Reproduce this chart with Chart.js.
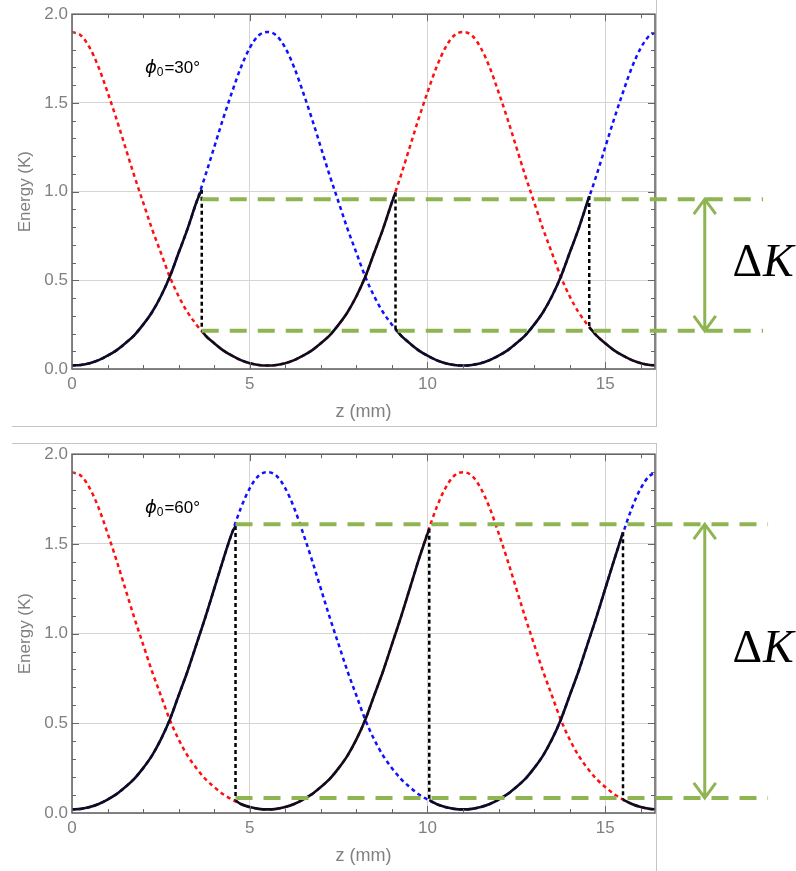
<!DOCTYPE html>
<html>
<head>
<meta charset="utf-8">
<script src="https://cdn.jsdelivr.net/npm/chart.js@4.4.0/dist/chart.umd.min.js"></script>
<style>
  html, body { margin: 0; padding: 0; background: #fff; }
  body { width: 796px; height: 871px; position: relative; overflow: hidden; }
  canvas { position: absolute; left: 0; }
  #c30 { top: 0; }
  #c60 { top: 440px; }
  .cell { position: absolute; border-color: #c4c4c4; border-style: solid; }
</style>
</head>
<body>
<div class="cell" style="left:12px; top:-1px; width:644px; height:427px; border-width:0 1px 1px 0;"></div>
<div class="cell" style="left:12px; top:443px; width:644px; height:440px; border-width:1px 1px 0 0;"></div>
<canvas id="c30" width="796" height="430"></canvas>
<canvas id="c60" width="796" height="431"></canvas>
<script>
// z positions (mm) where the two potential curves were read
const zGrid = [0, 0.25, 0.5, 0.75, 1, 1.25, 1.5, 1.75, 2, 2.25, 2.5, 2.75, 3, 3.25, 3.5, 3.75,
    4, 4.25, 4.5, 4.75, 5, 5.25, 5.5, 5.75, 6, 6.25, 6.5, 6.75, 7, 7.25, 7.5, 7.75,
    8, 8.25, 8.5, 8.75, 9, 9.25, 9.5, 9.75, 10, 10.25, 10.5, 10.75, 11, 11.25, 11.5, 11.75,
    12, 12.25, 12.5, 12.75, 13, 13.25, 13.5, 13.75, 14, 14.25, 14.5, 14.75, 15, 15.25, 15.5, 15.75,
    16, 16.25, 16.5];

// red dotted curve, energy (K)
const redDotted = [1.90, 1.88, 1.81, 1.70, 1.56, 1.41, 1.25, 1.09, 0.94, 0.79, 0.655, 0.52, 0.41, 0.32, 0.25, 0.19,
    0.145, 0.105, 0.075, 0.05, 0.033, 0.023, 0.02,
    0.023, 0.033, 0.05, 0.075, 0.105, 0.145, 0.19, 0.25, 0.32, 0.41, 0.52, 0.655, 0.79, 0.94, 1.09,
    1.25, 1.41, 1.56, 1.70, 1.81, 1.88, 1.90,
    1.88, 1.81, 1.70, 1.56, 1.41, 1.25, 1.09, 0.94, 0.79, 0.655, 0.52, 0.41, 0.32, 0.25, 0.19,
    0.145, 0.105, 0.075, 0.05, 0.033, 0.023, 0.02];

// blue dotted curve, energy (K)
const blueDotted = [0.02, 0.023, 0.033, 0.05, 0.075, 0.105, 0.145, 0.19, 0.25, 0.32, 0.41, 0.52, 0.655, 0.79, 0.94, 1.09,
    1.25, 1.41, 1.56, 1.70, 1.81, 1.88, 1.90,
    1.88, 1.81, 1.70, 1.56, 1.41, 1.25, 1.09, 0.94, 0.79, 0.655, 0.52, 0.41, 0.32, 0.25, 0.19,
    0.145, 0.105, 0.075, 0.05, 0.033, 0.023, 0.02,
    0.023, 0.033, 0.05, 0.075, 0.105, 0.145, 0.19, 0.25, 0.32, 0.41, 0.52, 0.655, 0.79, 0.94, 1.09,
    1.25, 1.41, 1.56, 1.70, 1.81, 1.88, 1.90];

// switching points of the black curve
const switchZ30 = [3.65, 9.1, 14.55];
const switchHigh30 = [1.01, 0.995, 0.975];
const switchLow30 = [0.22, 0.226, 0.236];
const greenLevels30 = [0.957, 0.215];

const switchZ60 = [4.6, 10.05, 15.5];
const switchHigh60 = [1.60, 1.585, 1.565];
const switchLow60 = [0.07, 0.072, 0.075];
const greenLevels60 = [1.61, 0.084];

// axis ticks
const xTickValues = [0, 5, 10, 15];
const xMajorTicks = [5, 10, 15];
const xMinorTicks = [1, 2, 3, 4, 6, 7, 8, 9, 11, 12, 13, 14, 16];
const yMajorTicks = [0.5, 1.0, 1.5];
const yMinorTicks = [0.1, 0.2, 0.3, 0.4, 0.6, 0.7, 0.8, 0.9, 1.1, 1.2, 1.3, 1.4, 1.6, 1.7, 1.8, 1.9];

const GREEN = '#8fb553';
const TICK_GRAY = '#808080';

Chart.defaults.font.family = '"Liberation Sans", Arial, sans-serif';

// frame with inward ticks, green guides, arrow and labels
const annotate = {
    id: 'annotate',
    afterDatasetsDraw(chart, args, opts) {
        const ctx = chart.ctx;
        const xs = chart.scales.x, ys = chart.scales.y;
        const a = chart.chartArea;
        ctx.save();

        ctx.strokeStyle = '#666';
        ctx.lineWidth = 1;
        ctx.beginPath();
        const xTick = (v, len) => {
            const px = Math.round(xs.getPixelForValue(v)) + 0.5;
            ctx.moveTo(px, a.bottom); ctx.lineTo(px, a.bottom - len);
            ctx.moveTo(px, a.top); ctx.lineTo(px, a.top + len);
        };
        const yTick = (v, len) => {
            const py = Math.round(ys.getPixelForValue(v)) + 0.5;
            ctx.moveTo(a.left, py); ctx.lineTo(a.left + len, py);
            ctx.moveTo(a.right, py); ctx.lineTo(a.right - len, py);
        };
        xMinorTicks.forEach(v => xTick(v, 4));
        xMajorTicks.forEach(v => xTick(v, 7));
        yMinorTicks.forEach(v => yTick(v, 4));
        yMajorTicks.forEach(v => yTick(v, 7));
        ctx.stroke();
        ctx.lineWidth = 1.6;
        ctx.strokeRect(a.left, a.top, a.right - a.left, a.bottom - a.top);

        // green dashed levels
        ctx.strokeStyle = GREEN;
        ctx.lineWidth = 4;
        ctx.setLineDash([17, 11]);
        const gx0 = xs.getPixelForValue(opts.greenFrom);
        const gx1 = xs.getPixelForValue(opts.greenTo);
        opts.levels.forEach(lv => {
            const py = ys.getPixelForValue(lv);
            ctx.beginPath();
            ctx.moveTo(gx0, py);
            ctx.lineTo(gx1, py);
            ctx.stroke();
        });

        // double arrow
        ctx.setLineDash([]);
        ctx.lineWidth = 3;
        const ax = xs.getPixelForValue(opts.arrowZ);
        const yTop = ys.getPixelForValue(opts.levels[0]);
        const yBot = ys.getPixelForValue(opts.levels[1]);
        ctx.beginPath();
        ctx.moveTo(ax, yTop); ctx.lineTo(ax, yBot);
        ctx.moveTo(ax - 11, yTop + 15); ctx.lineTo(ax, yTop); ctx.lineTo(ax + 11, yTop + 15);
        ctx.moveTo(ax - 11, yBot - 15); ctx.lineTo(ax, yBot); ctx.lineTo(ax + 11, yBot - 15);
        ctx.stroke();

        // Delta K
        ctx.fillStyle = '#000';
        ctx.textBaseline = 'middle';
        ctx.textAlign = 'left';
        const kx = xs.getPixelForValue(opts.labelZ);
        const ky = ys.getPixelForValue(opts.labelE);
        ctx.font = '46px "Liberation Serif", serif';
        ctx.fillText('Δ', kx, ky);
        const dw = ctx.measureText('Δ').width;
        ctx.font = 'italic 46px "Liberation Serif", serif';
        ctx.fillText('K', kx + dw + 1, ky);

        // phi_0 label
        ctx.textBaseline = 'alphabetic';
        let px = xs.getPixelForValue(opts.phiZ);
        const py = ys.getPixelForValue(opts.phiE);
        ctx.font = 'italic 18px "DejaVu Sans", sans-serif';
        ctx.fillText('ϕ', px, py);
        px += ctx.measureText('ϕ').width;
        ctx.font = '12px "Liberation Sans", sans-serif';
        ctx.fillText('0', px, py + 3);
        px += ctx.measureText('0').width + 1;
        ctx.font = '17px "Liberation Sans", sans-serif';
        ctx.fillText('=' + opts.phi + '°', px, py);

        ctx.restore();
    }
};

function makePanel(canvasId, cfg) {
    const follow = [blueDotted, redDotted, blueDotted, redDotted];
    const ends = [0, ...cfg.switchZ, zGrid[zGrid.length - 1]];
    const datasets = [];

    // black solid curve, built piecewise from the read curves
    for (let k = 0; k < 4; k++) {
        const src = follow[k];
        const pts = [];
        if (k > 0) pts.push({ x: ends[k], y: cfg.low[k - 1] });
        zGrid.forEach((z, i) => {
            const afterStart = k === 0 ? z >= ends[k] : z > ends[k] + 0.05;
            const beforeEnd = k === 3 ? z <= ends[k + 1] : z < ends[k + 1] - 0.05;
            if (afterStart && beforeEnd) pts.push({ x: z, y: src[i] });
        });
        if (k < 3) pts.push({ x: ends[k + 1], y: cfg.high[k] });
        datasets.push({
            data: pts, borderColor: '#0d0d1f', borderWidth: 2.6,
            cubicInterpolationMode: 'monotone', pointRadius: 0
        });
    }

    // black dotted jumps
    cfg.switchZ.forEach((z, i) => {
        datasets.push({
            data: [{ x: z, y: cfg.high[i] }, { x: z, y: cfg.low[i] }],
            borderColor: '#000', borderWidth: 2.5, borderDash: [4, 3], pointRadius: 0
        });
    });

    datasets.push({
        data: zGrid.map((z, i) => ({ x: z, y: redDotted[i] })),
        borderColor: '#ff1010', borderWidth: 2.5, borderDash: [4, 3.5],
        cubicInterpolationMode: 'monotone', pointRadius: 0
    });
    datasets.push({
        data: zGrid.map((z, i) => ({ x: z, y: blueDotted[i] })),
        borderColor: '#1010ff', borderWidth: 2.5, borderDash: [4, 3.5],
        cubicInterpolationMode: 'monotone', pointRadius: 0
    });

    return new Chart(document.getElementById(canvasId), {
        type: 'line',
        data: { datasets: datasets },
        plugins: [annotate],
        options: {
            responsive: false,
            animation: false,
            events: [],
            layout: { padding: { top: cfg.padTop, right: 141, left: 0, bottom: 0 } },
            plugins: {
                legend: { display: false },
                tooltip: { enabled: false },
                annotate: {
                    greenFrom: cfg.switchZ[0], greenTo: cfg.greenTo, levels: cfg.levels,
                    arrowZ: 17.8, labelZ: 18.58, labelE: cfg.labelE,
                    phiZ: 2.05, phiE: 1.67, phi: cfg.phi
                }
            },
            scales: {
                x: {
                    type: 'linear', min: 0, max: 16.4,
                    afterBuildTicks: s => { s.ticks = xTickValues.map(v => ({ value: v })); },
                    afterFit: s => { s.height = cfg.xAxisH; },
                    grid: { color: '#d4d4d4', lineWidth: 1, drawTicks: false },
                    border: { display: false },
                    ticks: { color: TICK_GRAY, padding: 5, font: { size: 17 } },
                    title: {
                        display: true, text: 'z (mm)', color: TICK_GRAY,
                        font: { size: 18 }, padding: { top: 0, bottom: cfg.titlePad }
                    }
                },
                y: {
                    min: 0, max: 2,
                    afterFit: s => { s.width = 72; },
                    grid: { color: '#d4d4d4', lineWidth: 1, drawTicks: false },
                    border: { display: false },
                    ticks: {
                        stepSize: 0.5, color: TICK_GRAY, padding: 4, font: { size: 17 },
                        callback: v => v.toFixed(1)
                    },
                    title: {
                        display: true, text: 'Energy (K)', color: TICK_GRAY,
                        font: { size: 17 }, padding: { top: 15, bottom: 0 }
                    }
                }
            }
        }
    });
}

makePanel('c30', {
    switchZ: switchZ30, high: switchHigh30, low: switchLow30, levels: greenLevels30,
    greenTo: 19.44, labelE: 0.59, phi: 30, padTop: 11, xAxisH: 61, titlePad: 7
});
makePanel('c60', {
    switchZ: switchZ60, high: switchHigh60, low: switchLow60, levels: greenLevels60,
    greenTo: 19.58, labelE: 0.91, phi: 60, padTop: 14, xAxisH: 58, titlePad: 4
});
</script>
</body>
</html>
